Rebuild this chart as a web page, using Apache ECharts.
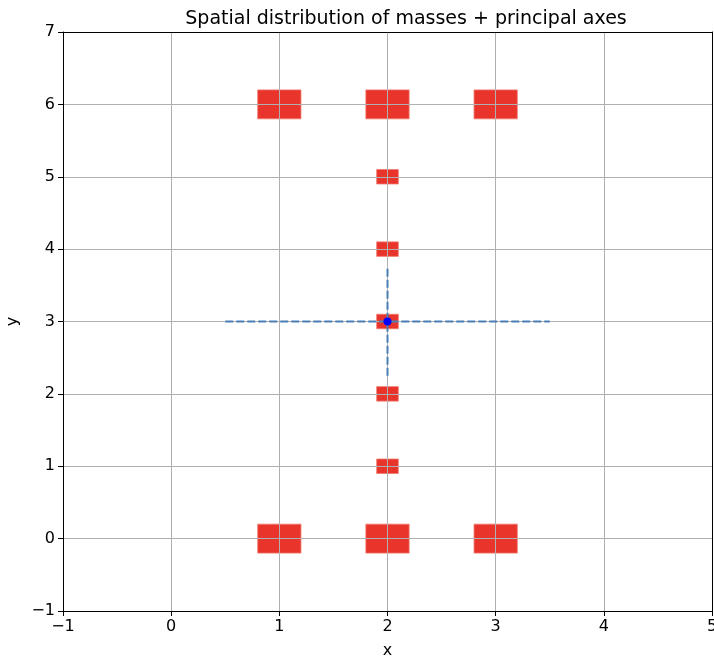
<!DOCTYPE html>
<html>
<head>
<meta charset="utf-8">
<script src="https://cdn.jsdelivr.net/npm/echarts@6/dist/echarts.min.js"></script>
<style>
  html, body { margin: 0; padding: 0; background: #fff; }
  #chart { width: 714px; height: 658px; }
</style>
</head>
<body>
<div id="chart"></div>
<script>
// point masses
const massX = [1, 2, 3, 2, 2, 2, 2, 2, 1, 2, 3];
const massY = [6, 6, 6, 5, 4, 3, 2, 1, 0, 0, 0];
const masses = [2, 2, 2, 1, 1, 1, 1, 1, 2, 2, 2];

// centre of mass and principal axes (end points)
const center = [2, 3];
const axisMajor = [[0.5, 3], [3.5, 3]];
const axisMinor = [[2, 2.25], [2, 3.75]];

const xTicks = [-1, 0, 1, 2, 3, 4, 5];
const yTicks = [-1, 0, 1, 2, 3, 4, 5, 6, 7];

const fmt = v => (v < 0 ? '\u2212' + Math.abs(v) : String(v));

const chart = echarts.init(document.getElementById('chart'));

const labelStyle = { color: '#000', fontSize: 16, fontFamily: 'DejaVu Sans', margin: 8, formatter: fmt };

const axisCommon = {
  type: 'value',
  interval: 1,
  z: 1,
  axisLine: { onZero: false, lineStyle: { color: '#000', width: 1 } },
  axisTick: { show: true, inside: false, length: 5, lineStyle: { color: '#000' } },
  axisLabel: labelStyle,
  splitLine: { show: true, lineStyle: { color: '#b0b0b0', width: 1 } },
  nameTextStyle: { color: '#000', fontSize: 16, fontFamily: 'DejaVu Sans' }
};

// plain frame lines for top / right spines
const spine = {
  type: 'value', interval: 1, z: 2,
  axisLine: { show: true, onZero: false, lineStyle: { color: '#000', width: 1 } },
  axisTick: { show: false }, axisLabel: { show: false }, splitLine: { show: false }
};

chart.setOption({
  animation: false,
  backgroundColor: '#fff',
  title: {
    text: 'Spatial distribution of masses + principal axes',
    left: 401, top: 5, textAlign: 'center',
    textStyle: { fontSize: 19, fontWeight: 'normal', color: '#000', fontFamily: 'DejaVu Sans' }
  },
  grid: {
    left: 63, right: 2, top: 32, bottom: 47,
    outerBoundsMode: 'none', containLabel: false
  },
  xAxis: [
    Object.assign({}, axisCommon, {
      min: xTicks[0], max: xTicks[xTicks.length - 1],
      name: 'x', nameLocation: 'middle', nameGap: 32
    }),
    Object.assign({}, spine, { position: 'top', min: xTicks[0], max: xTicks[xTicks.length - 1] })
  ],
  yAxis: [
    Object.assign({}, axisCommon, {
      min: yTicks[0], max: yTicks[yTicks.length - 1],
      name: 'y', nameLocation: 'middle', nameGap: 42, nameRotate: 90
    }),
    Object.assign({}, spine, { position: 'right', min: yTicks[0], max: yTicks[yTicks.length - 1] })
  ],
  series: [
    {
      type: 'custom',
      z: 0,
      data: massX.map((x, i) => [x, massY[i], masses[i] * 0.2]),
      renderItem: (params, api) => {
        const c = api.coord([api.value(0), api.value(1)]);
        const s = api.size([api.value(2), api.value(2)]);
        return {
          type: 'rect',
          shape: { x: c[0] - s[0] / 2, y: c[1] - s[1] / 2, width: s[0], height: s[1] },
          style: { fill: '#e8342a', stroke: 'rgba(240,120,110,0.8)', lineWidth: 1 }
        };
      }
    },
    {
      type: 'line', z: 3, data: axisMajor, symbol: 'none',
      lineStyle: { color: '#4a7fb6', width: 2, type: [8, 3] }
    },
    {
      type: 'line', z: 3, data: axisMinor, symbol: 'none',
      lineStyle: { color: '#4a7fb6', width: 2, type: [8, 3] }
    },
    {
      type: 'scatter', z: 4, data: [center], symbol: 'circle', symbolSize: 8,
      itemStyle: { color: '#0000ff', opacity: 1 }
    }
  ]
});
</script>
</body>
</html>
